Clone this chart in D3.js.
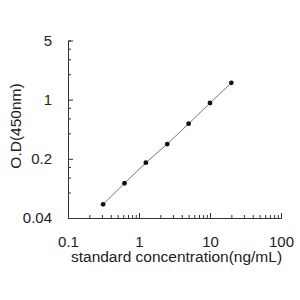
<!DOCTYPE html>
<html>
<head>
<meta charset="utf-8">
<script src="https://cdn.jsdelivr.net/npm/d3@7"></script>
<style>
  body { margin: 0; background: #fff; }
  text { font-family: "Liberation Sans", Arial, sans-serif; fill: #222; }
</style>
</head>
<body>
<script>
// standard curve data
var concentration = [0.3125, 0.625, 1.25, 2.5, 5, 10, 20];
var od = [0.058, 0.103, 0.180, 0.299, 0.52, 0.913, 1.58];

var xMajor = [0.1, 1, 10, 100];
var yMajor = [0.04, 0.2, 1, 5];
var yMinor = [0.08, 0.12, 0.16, 0.4, 0.6, 0.8, 2, 3, 4];

var width = 300, height = 300;

var svg = d3.select("body").append("svg")
    .attr("width", width)
    .attr("height", height);

var x = d3.scaleLog().domain([0.1, 100]).range([68, 281]);
var y = d3.scaleLog().domain([0.04, 5]).range([218, 40.5]);

// x minor ticks 2..9 of each decade
var xMinor = [];
[0.1, 1, 10].forEach(function(d) {
  for (var k = 2; k <= 9; k++) xMinor.push(d * k);
});

function styleAxis(g) {
  g.select(".domain").attr("stroke", "#333");
  g.selectAll(".tick line").attr("stroke", "#333");
  g.selectAll("text")
    .style("font-family", "'Liberation Sans', Arial, sans-serif")
    .style("font-size", "15px")
    .attr("fill", "#222");
}

// x axis
svg.append("g")
    .attr("transform", "translate(0,218)")
    .call(d3.axisBottom(x).tickValues(xMinor).tickSize(-3).tickFormat(""))
    .call(styleAxis);
svg.append("g")
    .attr("transform", "translate(0,218)")
    .call(d3.axisBottom(x).tickValues(xMajor).tickSize(-5).tickSizeOuter(0).tickPadding(18)
      .tickFormat(function(d) { return d3.format("~g")(d); }))
    .call(styleAxis);

// y axis
svg.append("g")
    .attr("transform", "translate(68,0)")
    .call(d3.axisLeft(y).tickValues(yMinor).tickSize(-3).tickFormat(""))
    .call(styleAxis);
svg.append("g")
    .attr("transform", "translate(68,0)")
    .call(d3.axisLeft(y).tickValues(yMajor).tickSize(-5).tickSizeOuter(0).tickPadding(16)
      .tickFormat(function(d) { return d3.format("~g")(d); }))
    .call(styleAxis);

// curve line
var line = d3.line()
    .x(function(d, i) { return x(concentration[i]); })
    .y(function(d) { return y(d); });

svg.append("path")
    .datum(od)
    .attr("d", line)
    .attr("fill", "none")
    .attr("stroke", "#777")
    .attr("stroke-width", 1);

// points
svg.selectAll(".pt")
    .data(od)
    .enter().append("circle")
    .attr("class", "pt")
    .attr("cx", function(d, i) { return x(concentration[i]); })
    .attr("cy", function(d) { return y(d); })
    .attr("r", 2.4)
    .attr("fill", "#111");

// axis titles
svg.append("text")
    .attr("x", 176.5)
    .attr("y", 262)
    .attr("text-anchor", "middle")
    .style("font-size", "15.5px")
    .text("standard concentration(ng/mL)");

svg.append("text")
    .attr("transform", "translate(21,126) rotate(-90)")
    .attr("text-anchor", "middle")
    .style("font-size", "15.5px")
    .text("O.D(450nm)");
</script>
</body>
</html>
